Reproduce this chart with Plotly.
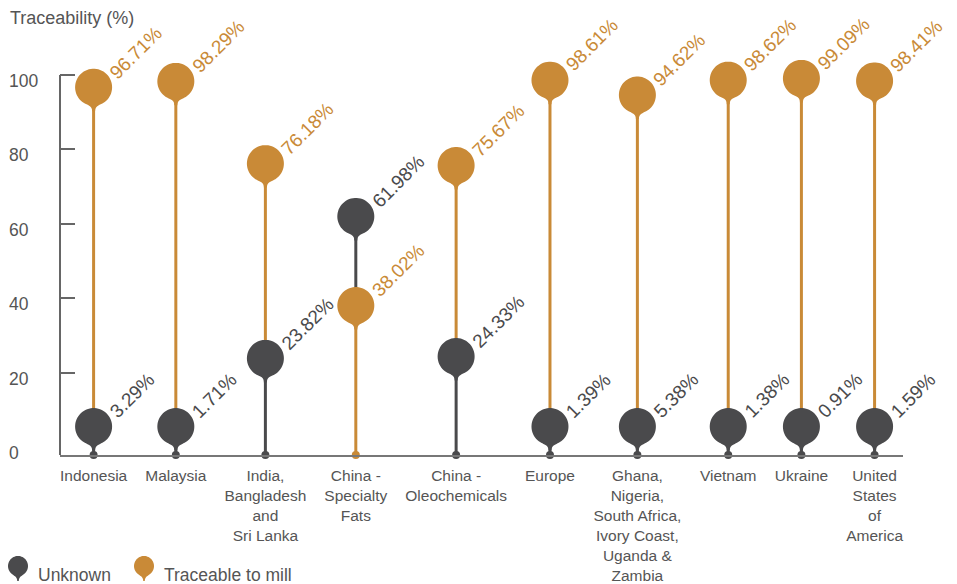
import math
import numpy as np
import plotly.graph_objects as go

# ---------------- data ----------------
categories = [
    "Indonesia",
    "Malaysia",
    "India,<br>Bangladesh<br>and<br>Sri Lanka",
    "China -<br>Specialty<br>Fats",
    "China -<br>Oleochemicals",
    "Europe",
    "Ghana,<br>Nigeria,<br>South Africa,<br>Ivory Coast,<br>Uganda &<br>Zambia",
    "Vietnam",
    "Ukraine",
    "United<br>States<br>of<br>America",
]
unknown = [3.29, 1.71, 23.82, 61.98, 24.33, 1.39, 5.38, 1.38, 0.91, 1.59]
traceable = [96.71, 98.29, 76.18, 38.02, 75.67, 98.61, 94.62, 98.62, 99.09, 98.41]
series_names = ["Unknown", "Traceable to mill"]
y_tick_values = [0, 20, 40, 60, 80, 100]
y_title = "Traceability (%)"

# ---------------- style / layout ----------------
OFF = 8                          # default page (body) margin of the html page
W, H = 957 - OFF, 584 - OFF
ML, MR, MT, MB = 60 - OFF, 54, 30 - OFF, 129
PW, PH = W - ML - MR, H - MT - MB
Y_MIN = -2.15
PPU = 3.72                       # pixels per y unit
Y_MAX = Y_MIN + PH / PPU
PIN_FLOOR = 5.5                  # keep small pins above the baseline

DARK = "#4a4a4c"
ORANGE = "#c98a37"
TEXT = "#555555"
AXIS = "#666666"
FONT = "Liberation Sans, Arial, Helvetica, sans-serif"
CAT_FONT_SIZE = 15.5
colors = [DARK, ORANGE]

# Arial-like character widths (em) to lay out category columns by label width
CW = {c: .556 for c in "abdeghnopqu0123456789"}
CW.update({"c": .5, "f": .278, "i": .222, "j": .222, "k": .5, "l": .222, "m": .833,
           "r": .333, "s": .5, "t": .278, "v": .5, "w": .722, "x": .5, "y": .5, "z": .5,
           "A": .667, "B": .667, "C": .722, "D": .722, "E": .667, "F": .611, "G": .778,
           "H": .722, "I": .278, "J": .5, "K": .667, "L": .556, "M": .833, "N": .722,
           "O": .778, "P": .667, "Q": .778, "R": .722, "S": .667, "T": .611, "U": .722,
           "V": .667, "W": .944, "X": .667, "Y": .667, "Z": .611, " ": .278, ",": .278,
           "-": .333, "&": .667, ".": .278})


def text_width(label, size):
    return max(sum(CW.get(ch, .556) for ch in line) for line in label.split("<br>")) * size


widths = [text_width(c, CAT_FONT_SIZE) for c in categories]
gap = (PW - sum(widths)) / (len(categories) - 1)
xpos = []
cur = 0.0
for i, w in enumerate(widths):
    if i == 0:
        cur = w / 2
    else:
        cur += (widths[i - 1] + w) / 2 + gap
    xpos.append(cur)


def pin_path(r, neck, theta_deg=42, tip_half=1.5, n_arc=48, n_neck=14):
    th = math.radians(theta_deg)
    P = np.array([r * math.sin(th), -r * math.cos(th)])
    tan = np.array([math.cos(th), math.sin(th)])
    p0 = np.array([tip_half, -neck])
    c1 = np.array([tip_half, -neck + neck * 0.28])
    c2 = P - 0.38 * r * tan
    t = np.linspace(0, 1, n_neck)[:, None]
    right = ((1 - t) ** 3) * p0 + 3 * ((1 - t) ** 2) * t * c1 + 3 * (1 - t) * t ** 2 * c2 + t ** 3 * P
    phis = np.radians(np.linspace(-90 + theta_deg, 270 - theta_deg, n_arc))
    arc = np.column_stack([r * np.cos(phis), r * np.sin(phis)])
    left = right[::-1] * np.array([-1, 1])
    pts = np.vstack([right, arc[1:-1], left])
    return "M " + " L ".join(f"{x:.2f},{y:.2f}" for x, y in pts) + " Z"


PIN = pin_path(18.5, 24)
PIN_SMALL = pin_path(10, 15, tip_half=0.8)

series = [unknown, traceable]

fig = go.Figure()

seg = {DARK: ([], []), ORANGE: ([], [])}
dot_x, dot_c = [], []
shapes = []
annotations = []
for i, x in enumerate(xpos):
    vals = [series[s][i] for s in range(2)]
    ys = [max(v, PIN_FLOOR) for v in vals]
    lo = 0 if vals[0] <= vals[1] else 1
    hi = 1 - lo
    sx, sy = seg[colors[lo]]
    sx += [x, x, None]
    sy += [Y_MIN, ys[lo], None]
    sx, sy = seg[colors[hi]]
    sx += [x, x, None]
    sy += [ys[lo], ys[hi], None]
    dot_x.append(x)
    dot_c.append(colors[lo])
    for s in range(2):
        shapes.append(dict(type="path", xref="x", yref="y", xsizemode="pixel", ysizemode="pixel",
                           xanchor=x, yanchor=ys[s], path=PIN, fillcolor=colors[s],
                           line=dict(width=0), layer="above"))
        annotations.append(dict(x=x, y=ys[s], xref="x", yref="y", text=f"{vals[s]:.2f}%",
                                showarrow=False, textangle=-45, xanchor="left", yanchor="bottom",
                                xshift=9, yshift=2,
                                font=dict(family=FONT, size=19, color=colors[s])))

for c, (sx, sy) in seg.items():
    fig.add_trace(go.Scatter(x=sx, y=sy, mode="lines", line=dict(color=c, width=3),
                             hoverinfo="skip", showlegend=False, cliponaxis=False))
fig.add_trace(go.Scatter(x=dot_x, y=[Y_MIN] * len(dot_x), mode="markers",
                         marker=dict(color=dot_c, size=8), hoverinfo="skip",
                         showlegend=False, cliponaxis=False))


def px2paper(px, py):
    """screen pixel -> paper fraction"""
    return (px - OFF - ML) / PW, (H - MB - (py - OFF)) / PH


# y axis line (0..100 only) and left-aligned tick labels
shapes.append(dict(type="line", xref="paper", yref="y", x0=0, x1=0, y0=Y_MIN, y1=max(y_tick_values),
                   line=dict(color=AXIS, width=2), layer="above"))
for v in y_tick_values:
    annotations.append(dict(xref="paper", yref="y", x=px2paper(7, 0)[0], y=v, text=str(v),
                            showarrow=False, xanchor="left", yanchor="middle", yshift=-6,
                            font=dict(family=FONT, size=17.5, color=TEXT)))

# y title
tx, ty = px2paper(8, 18)
annotations.append(dict(xref="paper", yref="paper", x=tx, y=ty, text=y_title, showarrow=False,
                        xanchor="left", yanchor="middle",
                        font=dict(family=FONT, size=18, color=TEXT)))

# custom legend
legend_items = [(18, 36), (144, 162)]
for s, (pxp, pxt) in enumerate(legend_items):
    ax, ay = px2paper(pxp, 566)
    shapes.append(dict(type="path", xref="paper", yref="paper", xsizemode="pixel", ysizemode="pixel",
                       xanchor=ax, yanchor=ay, path=PIN_SMALL, fillcolor=colors[s],
                       line=dict(width=0)))
    tx, ty = px2paper(pxt, 575)
    annotations.append(dict(xref="paper", yref="paper", x=tx, y=ty, text=series_names[s],
                            showarrow=False, xanchor="left", yanchor="middle",
                            font=dict(family=FONT, size=17.5, color=TEXT)))

fig.update_layout(
    width=W, height=H,
    margin=dict(l=ML, r=MR, t=MT, b=MB, pad=0, autoexpand=False),
    paper_bgcolor="white", plot_bgcolor="white",
    showlegend=False,
    shapes=shapes,
    annotations=annotations,
    xaxis=dict(range=[0, PW], tickvals=xpos, ticktext=categories, showgrid=False, zeroline=False,
               showline=True, linecolor="#777777", linewidth=2, ticks="", fixedrange=True,
               automargin=False, ticklabelstandoff=5,
               tickfont=dict(family=FONT, size=CAT_FONT_SIZE, color=TEXT)),
    yaxis=dict(range=[Y_MIN, Y_MAX], tickvals=[v for v in y_tick_values if v > 0],
               showticklabels=False, ticks="inside", ticklen=15, tickwidth=2, tickcolor=AXIS,
               showgrid=False, zeroline=False, showline=False, fixedrange=True, automargin=False),
)

fig.write_html("out.html")
